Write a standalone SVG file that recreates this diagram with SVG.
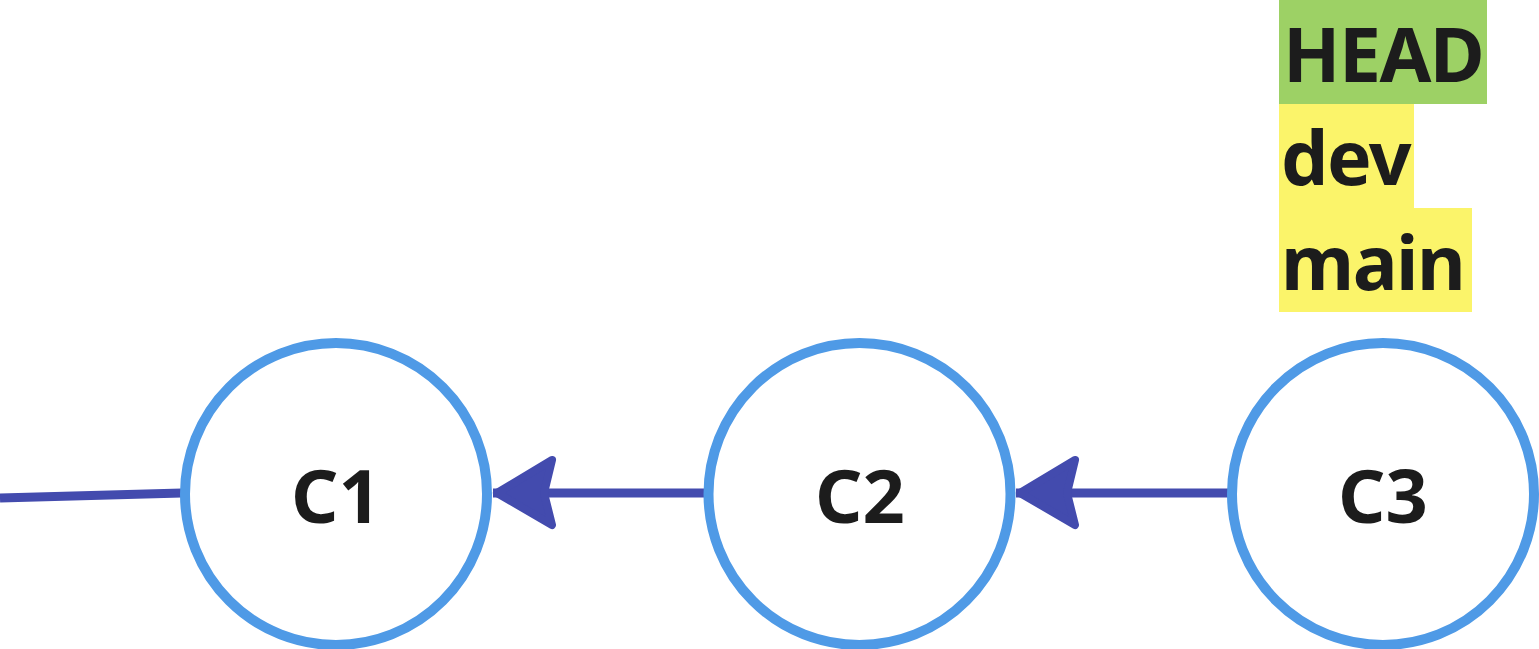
<svg xmlns="http://www.w3.org/2000/svg" width="1539" height="649" viewBox="0 0 1539 649">
  <style>
    .commit { fill: #ffffff; stroke: #4f9ae6; stroke-width: 10; }
    .commit-label { font-family: "Noto Sans", "Open Sans", sans-serif; font-weight: 700; font-size: 74px; fill: #1c1c1c; text-anchor: middle; }
    .edge { fill: none; stroke: #434bae; stroke-width: 9; }
    .ref-label { font-family: "Noto Sans", "Open Sans", sans-serif; font-weight: 700; font-size: 75px; letter-spacing: -1.5px; fill: #1c1c1c; }
    .head-bg { fill: #9dd165; }
    .branch-bg { fill: #fbf46a; }
  </style>
  <defs>
    <marker id="arrow" markerUnits="userSpaceOnUse" viewBox="-70 -45 80 90" markerWidth="80" markerHeight="90" refX="0" refY="0" orient="auto">
      <path d="M -4 0 L -59 -32 L -51 0 L -59 33 Z" fill="#434bae" stroke="#434bae" stroke-width="8" stroke-linejoin="round"/>
    </marker>
  </defs>

  <!-- parent links between commits -->
  <g id="connectors">
    <path class="edge" d="M 0 498 L 182 493"/>
    <path class="edge" d="M 705 493 L 493 493" marker-end="url(#arrow)"/>
    <path class="edge" d="M 1228 493 L 1016 493" marker-end="url(#arrow)"/>
  </g>

  <!-- commits -->
  <g id="C1">
    <circle class="commit" cx="336" cy="494" r="151"/>
    <text class="commit-label" x="336" y="523">C1</text>
  </g>
  <g id="C2">
    <circle class="commit" cx="859.5" cy="494" r="151"/>
    <text class="commit-label" x="860" y="523">C2</text>
  </g>
  <g id="C3">
    <circle class="commit" cx="1383" cy="494" r="151"/>
    <text class="commit-label" x="1383" y="523">C3</text>
  </g>

  <!-- refs pointing at C3 -->
  <g id="HEAD">
    <rect class="head-bg" x="1279" y="0" width="208" height="104"/>
    <text class="ref-label" x="1283" y="82">HEAD</text>
  </g>
  <g id="dev">
    <rect class="branch-bg" x="1279" y="104" width="135" height="104"/>
    <text class="ref-label" x="1281" y="185">dev</text>
  </g>
  <g id="main">
    <rect class="branch-bg" x="1279" y="208" width="193" height="104"/>
    <text class="ref-label" x="1281" y="290">main</text>
  </g>
</svg>
